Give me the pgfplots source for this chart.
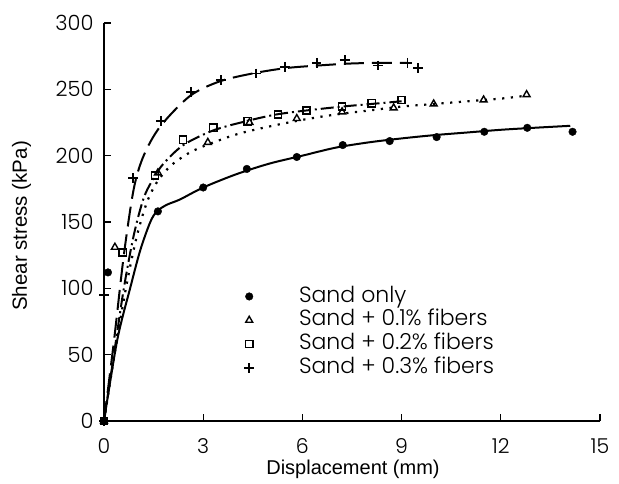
\documentclass[border=0pt]{standalone}
\usepackage{pgfplots}
\pgfplotsset{compat=1.18}
\usepackage{fontspec}
\setmainfont{Liberation Sans}
\newfontfamily\geo{Poppins Light}
\begin{document}
\begin{tikzpicture}
\begin{axis}[
  at={(0,0)}, anchor=south west,
  scale only axis, width=496pt, height=398pt,
  xmin=0, xmax=15, ymin=0, ymax=300,
  axis x line=bottom, axis y line=left,
  axis line style={-, line width=1.4pt},
  xtick={0,3,6,9,12,15}, ytick={0,50,100,150,200,250,300},
  tick align=inside, major tick length=7pt,
  tick style={line width=1.2pt, black},
  /pgf/number format/assume math mode=true,
  tick label style={font=\geo\fontsize{21}{23}\selectfont},
  yticklabel style={xshift=-7pt},
  xticklabel style={inner sep=0pt, text height=14pt, text depth=0pt, yshift=-18pt, font=\geo\fontsize{20.5}{22}\selectfont},
  xlabel={Displacement (mm)}, ylabel={Shear stress (kPa)},
  every axis x label/.style={at={(axis description cs:0.502,-0.134)}, anchor=base, inner sep=0pt, text height=14.5pt, text depth=0pt, font=\fontsize{20}{22}\selectfont},
  every axis y label/.style={at={(axis description cs:-0.166,0.49)}, anchor=center, rotate=90, font=\fontsize{20.5}{22}\selectfont},
  clip=false,
  legend style={draw=none, fill=none, at={(axis cs:4.15,104.5)}, anchor=north west,
    font=\geo\fontsize{22}{23}\selectfont,
    nodes={inner sep=1pt, text height=16.5pt, text depth=5.3pt},
    /tikz/every odd column/.append style={column sep=44pt}},
  legend cell align=left,
  legend image code/.code={\draw[#1] plot coordinates {(0pt,0pt)};},
]
% fitted curves
\addplot[forget plot, black, line width=2pt, smooth, tension=0.5] coordinates {
(0,0) (0.4,61) (0.8,101) (1.1,129) (1.4,150) (1.6,158) (1.9,163) (2.3,167) (3,176) (4,186) (5,194) (6,200) (7,206) (8,210) (9,213) (10,215.5) (11,217.5) (12,219.5) (13,221) (14.1,222.5)};
\addplot[forget plot, black, line width=2.2pt, dash pattern=on 2.2pt off 6.5pt, smooth, tension=0.5] coordinates {
(0,0) (0.35,55) (0.7,105) (1.0,140) (1.3,165) (1.6,180) (2,192) (2.5,201) (3,207) (4,216) (5,222) (6,227) (7,231) (8,234) (9,237) (10,239) (11,241) (12,243) (12.7,245)};
\addplot[forget plot, black, line width=2pt, dash pattern=on 13pt off 4pt on 2pt off 4pt, smooth, tension=0.5] coordinates {
(0,0) (0.3,50) (0.6,100) (0.9,140) (1.2,168) (1.5,183) (1.8,194) (2.4,208) (3.3,219) (4.3,226) (5.2,231) (6.1,234) (7.2,237) (8.1,239) (9.0,241)};
\addplot[forget plot, black, line width=2pt, dash pattern=on 20pt off 8pt, smooth, tension=0.5] coordinates {
(0,0) (0.3,60) (0.6,125) (0.9,175) (1.2,200) (1.7,222) (2.6,245) (3.5,256) (4.5,262) (5.5,266) (6.5,268) (7.5,269.5) (8.5,270) (9.2,270)};
% data points
\addplot[only marks, mark=*, mark size=3.8pt, black, fill=black] coordinates {
(0,0) (0.12,112) (1.63,158) (3.0,176) (4.32,190) (5.83,199) (7.22,208) (8.64,211) (10.06,214) (11.5,218) (12.8,221) (14.17,218)};
\addlegendentry{Sand only}
\addplot[only marks, mark=triangle, mark size=4pt, black, line width=1.4pt] coordinates {
(0,0) (0.33,131) (1.63,187) (3.14,210) (4.4,225) (5.83,228) (7.2,233) (8.76,236) (9.97,239) (11.48,242) (12.78,246)};
\addlegendentry{Sand + 0.1\% fibers}
\addplot[only marks, mark=square, mark size=3.6pt, black, line width=1.6pt] coordinates {
(0,0) (0.57,127) (1.54,185) (2.39,212) (3.3,221) (4.35,226) (5.26,231) (6.13,234) (7.2,237) (8.1,239.5) (9.0,242)};
\addlegendentry{Sand + 0.2\% fibers}
\addplot[only marks, mark=+, mark size=4.8pt, black, line width=1.8pt] coordinates {
(0,0) (0,95) (0.88,183) (1.72,226) (2.63,248) (3.53,257) (4.59,262) (5.47,267) (6.43,270) (7.28,272) (8.28,268) (9.18,270) (9.5,266)};
\addlegendentry{Sand + 0.3\% fibers}
\end{axis}
\path (-104pt,-63pt) rectangle (515pt,421pt);
\end{tikzpicture}
\end{document}
